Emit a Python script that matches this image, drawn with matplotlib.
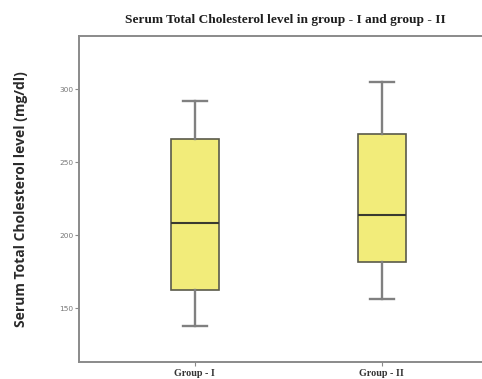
import matplotlib
matplotlib.use("Agg")
import matplotlib.pyplot as plt

# values (mg/dl)
groups = ['Group - I', 'Group - II']
whislo = [137.8, 156.7]
q1 = [162.4, 182.0]
med = [208.4, 213.9]
q3 = [265.8, 269.0]
whishi = [291.8, 304.8]

stats = []
for i in range(len(groups)):
    stats.append({'label': groups[i], 'whislo': whislo[i], 'q1': q1[i],
                  'med': med[i], 'q3': q3[i], 'whishi': whishi[i], 'fliers': []})

fig = plt.figure(figsize=(4.82, 3.79), dpi=100)
ax = fig.add_axes([0.1639, 0.0449, 0.869, 0.860])

ax.bxp(stats, positions=[1, 2], widths=0.255, patch_artist=True, showfliers=False,
       boxprops=dict(facecolor='#f2ec7a', edgecolor='#5a5a4a', linewidth=1.2),
       medianprops=dict(color='#3a3a30', linewidth=1.5),
       whiskerprops=dict(color='#808080', linewidth=1.7),
       capprops=dict(color='#808080', linewidth=1.7),
       capwidths=0.13)

ax.set_xlim(0.38, 2.62)
ax.set_ylim(113.4, 336.2)
ax.set_yticks([150, 200, 250, 300])

for s in ['top', 'bottom', 'left']:
    ax.spines[s].set_color('#8a8a8a')
    ax.spines[s].set_linewidth(1.4)
ax.spines['right'].set_visible(False)

ax.tick_params(axis='y', direction='out', length=3, width=0.8, color='#8a8a8a',
               labelsize=5.3, labelcolor='#777777', pad=1)
ax.tick_params(axis='x', direction='out', length=3, width=0.8, color='#8a8a8a', pad=2)
for lab in ax.get_xticklabels():
    lab.set_fontfamily('Liberation Serif')
    lab.set_fontweight('bold')
    lab.set_fontsize(7.3)
    lab.set_color('#333333')

ax.set_ylabel('Serum Total Cholesterol level (mg/dl)', fontsize=10, fontweight='bold',
              family='Open Sans', color='#2a2a2a')
ax.yaxis.set_label_coords(-0.122, 0.5)

fig.text(285 / 482, 1 - 20 / 379, 'Serum Total Cholesterol level in group - I and group - II',
         ha='center', va='center', fontsize=9.6, fontweight='bold',
         family='Liberation Serif', color='#1e1e1e')

plt.savefig('out.png', dpi=100)
